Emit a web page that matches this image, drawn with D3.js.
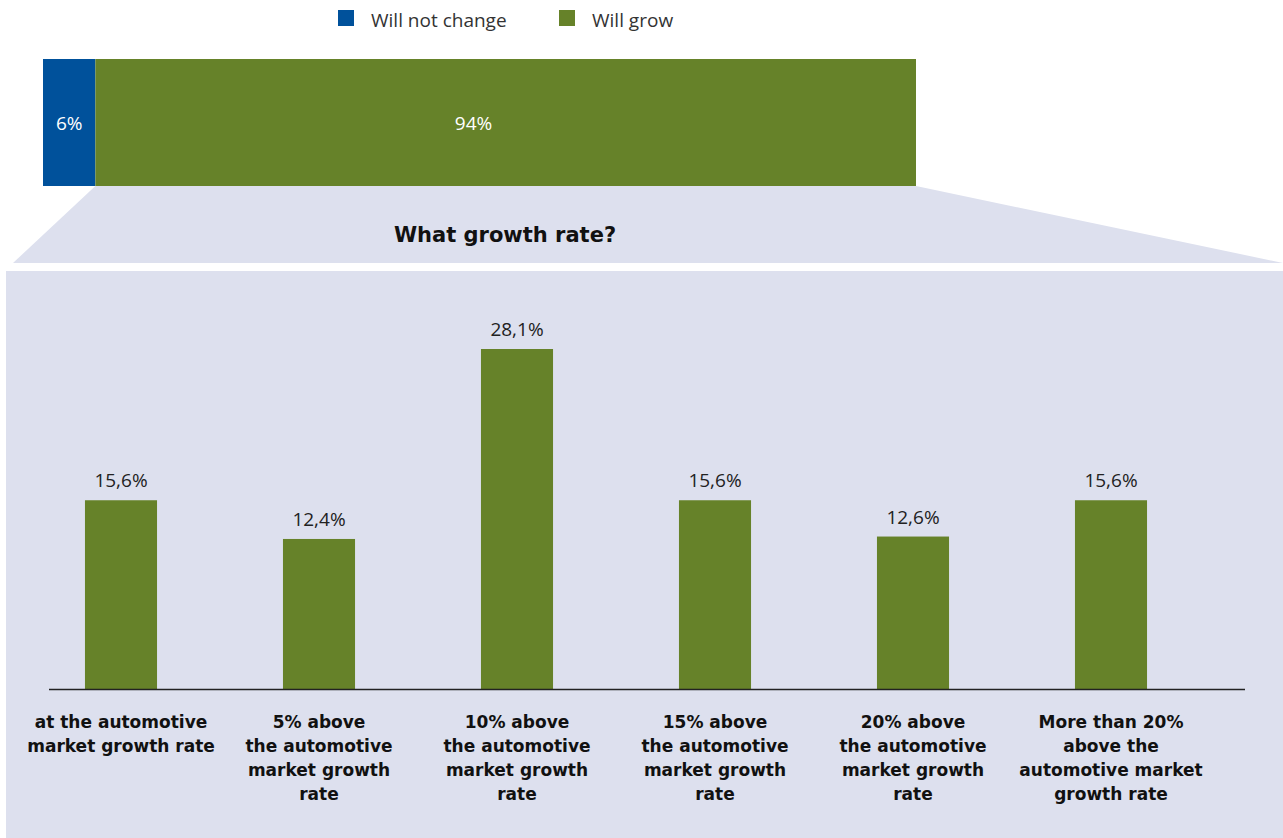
<!DOCTYPE html>
<html><head><meta charset="utf-8">
<script src="https://cdn.jsdelivr.net/npm/d3@7"></script>
<style>body{margin:0;background:#fff;}svg{display:block;font-family:"Open Sans","Liberation Sans",Arial,sans-serif;}</style>
</head><body><svg id="c" width="1283" height="838"></svg>
<script>
const topSeries = ["Will not change", "Will grow"];
const topValues = [6, 94];
const topColors = ["#00519b", "#668229"];
const categories = [
  ["at the automotive", "market growth rate"],
  ["5% above", "the automotive", "market growth", "rate"],
  ["10% above", "the automotive", "market growth", "rate"],
  ["15% above", "the automotive", "market growth", "rate"],
  ["20% above", "the automotive", "market growth", "rate"],
  ["More than 20%", "above the", "automotive market", "growth rate"]
];
const values = [15.6, 12.4, 28.1, 15.6, 12.6, 15.6];
const valueLabels = ["15,6%", "12,4%", "28,1%", "15,6%", "12,6%", "15,6%"];
const title = "What growth rate?";

const svg = d3.select("#c");
const panel = "#dde0ee";
const boldFont = "'DejaVu Sans', 'Liberation Sans', sans-serif";

// top stacked bar
const xTop = d3.scaleLinear().domain([0, 100]).range([43, 916]);
const topY = 59, topH = 127;
let acc = 0;
const stack = topValues.map((v, i) => { const s = {v, i, x0: acc, x1: acc + v}; acc += v; return s; });

// trapezoid + panel
const greenSeg = stack[1];
svg.append("path")
  .attr("d", `M${xTop(greenSeg.x0)},${topY + topH} L${xTop(greenSeg.x1)},${topY + topH} L1283,263 L13,263 Z`)
  .attr("fill", panel);
svg.append("rect").attr("x", 6).attr("y", 271).attr("width", 1277).attr("height", 567).attr("fill", panel);

svg.selectAll("rect.top").data(stack).join("rect")
  .attr("x", d => xTop(d.x0)).attr("width", d => xTop(d.x1) - xTop(d.x0))
  .attr("y", topY).attr("height", topH).attr("fill", d => topColors[d.i]);
svg.selectAll("text.top").data(stack).join("text")
  .attr("x", d => d.i === 0 ? (xTop(d.x0) + xTop(d.x1)) / 2 : xTop(50) - 6)
  .attr("y", topY + topH / 2 + 7)
  .attr("text-anchor", "middle").attr("fill", "#fff").attr("font-size", 19)
  .text(d => d.v + "%");

// legend
const legX = [338, 559];
topSeries.forEach((s, i) => {
  svg.append("rect").attr("x", legX[i]).attr("y", 10).attr("width", 16).attr("height", 16).attr("fill", topColors[i]);
  svg.append("text").attr("x", legX[i] + 33).attr("y", 27).attr("font-size", 19).attr("fill", "#333").text(s);
});

// title
svg.append("text").attr("x", 505).attr("y", 242).attr("text-anchor", "middle")
  .attr("font-family", boldFont)
  .attr("font-size", 21).attr("font-weight", "bold").attr("fill", "#111").text(title);

// bar chart
const x = d3.scaleBand().domain(d3.range(categories.length)).range([22, 1210]).paddingInner(0.636).paddingOuter(0.318);
const y = d3.scaleLinear().domain([0, 28.1]).range([689, 349]);

svg.selectAll("rect.bar").data(values).join("rect")
  .attr("x", (d, i) => x(i)).attr("width", x.bandwidth())
  .attr("y", d => y(d)).attr("height", d => y(0) - y(d)).attr("fill", "#668229");

svg.selectAll("text.val").data(values).join("text")
  .attr("x", (d, i) => x(i) + x.bandwidth() / 2).attr("y", d => y(d) - 13)
  .attr("text-anchor", "middle").attr("font-size", 19).attr("fill", "#222")
  .text((d, i) => valueLabels[i]);

svg.append("line").attr("x1", 49).attr("x2", 1245).attr("y1", 689.5).attr("y2", 689.5)
  .attr("stroke", "#222").attr("stroke-width", 1.5);

categories.forEach((lines, i) => {
  const t = svg.append("text").attr("text-anchor", "middle").attr("font-size", 17)
    .attr("font-family", boldFont)
    .attr("font-weight", "bold").attr("fill", "#111");
  lines.forEach((l, j) => {
    t.append("tspan").attr("x", x(i) + x.bandwidth() / 2).attr("y", 728 + j * 24).text(l);
  });
});
</script></body></html>
